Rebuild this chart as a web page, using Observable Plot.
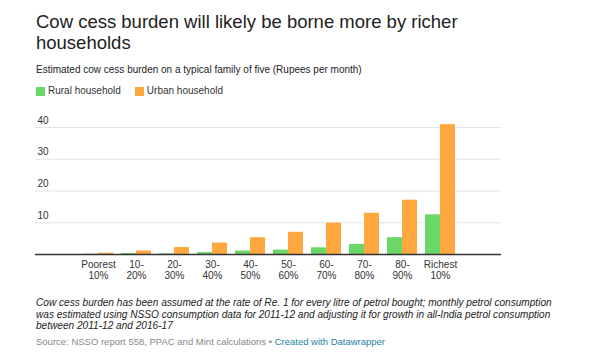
<!DOCTYPE html>
<html>
<head>
<meta charset="utf-8">
<script src="https://cdn.jsdelivr.net/npm/d3@7"></script>
<script src="https://cdn.jsdelivr.net/npm/@observablehq/plot@0.6"></script>
<style>
  html, body { margin: 0; padding: 0; background: #fff; }
  body { width: 610px; height: 360px; position: relative; overflow: hidden;
         font-family: "Liberation Sans", Arial, Helvetica, sans-serif; color: #333; }
  .abs { position: absolute; left: 36px; }
  #title { top: 11px; font-size: 18.5px; line-height: 21px; color: #222; white-space: nowrap; }
  #subtitle { top: 64px; font-size: 10px; line-height: 12px; color: #222; white-space: nowrap; }
  #legend { top: 85px; font-size: 10px; line-height: 12px; color: #333; white-space: nowrap; display: flex; gap: 14px; }
  #legend .item { display: flex; align-items: center; }
  #legend .sw { width: 9px; height: 9px; display: inline-block; margin-right: 3px; }
  #chart { position: absolute; left: 0; top: 110px; }
  #notes { top: 297px; font-size: 10.1px; line-height: 11.6px; font-style: italic; color: #222; white-space: nowrap; }
  #source { top: 336px; font-size: 9.5px; line-height: 12px; color: #888; white-space: nowrap; }
  #source a { color: #1d81a2; text-decoration: none; }
</style>
</head>
<body>
<div id="title" class="abs">Cow cess burden will likely be borne more by richer<br>households</div>
<div id="subtitle" class="abs">Estimated cow cess burden on a typical family of five (Rupees per month)</div>
<div id="legend" class="abs"></div>
<div id="chart"></div>
<div id="notes" class="abs">Cow cess burden has been assumed at the rate of Re. 1 for every litre of petrol bought; monthly petrol consumption<br>was estimated using NSSO consumption data for 2011-12 and adjusting it for growth in all-India petrol consumption<br>between 2011-12 and 2016-17</div>
<div id="source" class="abs">Source: NSSO report 558, PPAC and Mint calculations • <a>Created with Datawrapper</a></div>
<script>
// ---- data ----
const categories = ["Poorest 10%", "10-20%", "20-30%", "30-40%", "40-50%", "50-60%", "60-70%", "70-80%", "80-90%", "Richest 10%"];
const categoryLabels = ["Poorest\n10%", "10-\n20%", "20-\n30%", "30-\n40%", "40-\n50%", "50-\n60%", "60-\n70%", "70-\n80%", "80-\n90%", "Richest\n10%"];
const rural = [0.1, 0.3, 0.2, 0.6, 1.1, 1.4, 2.1, 3.2, 5.3, 12.5];
const urban = [0.4, 1.1, 2.2, 3.6, 5.3, 7.0, 9.9, 13.0, 17.1, 40.9];
const seriesNames = ["Rural household", "Urban household"];
const seriesColors = ["#6bd768", "#ffa83f"];
const yTicks = [10, 20, 30, 40];

// ---- table built from arrays ----
const table = categories.map((c, i) => ({category: c, label: categoryLabels[i], rural: rural[i], urban: urban[i]}));

// legend
const legend = document.getElementById("legend");
seriesNames.forEach((name, i) => {
  const item = document.createElement("span");
  item.className = "item";
  const sw = document.createElement("span");
  sw.className = "sw";
  sw.style.background = seriesColors[i];
  item.appendChild(sw);
  item.appendChild(document.createTextNode(name));
  legend.appendChild(item);
});

const base = {
  width: 610,
  height: 180,
  marginLeft: 35,
  marginRight: 109,
  marginTop: 17,
  marginBottom: 36,
  style: {fontFamily: "'Liberation Sans', Arial, sans-serif", background: "white"},
  x: {type: "band", domain: categories, paddingInner: 0.22, paddingOuter: 0.11, insetLeft: 42, insetRight: 41, axis: null},
  y: {domain: [0, 40], axis: null}
};

const probe = Plot.plot({...base, marks: [Plot.barY(table, {x: "category", y: "urban"})]});
const half = probe.scale("x").bandwidth / 2;

const chart = Plot.plot({
  ...base,
  marks: [
    Plot.ruleY(yTicks, {stroke: "#e3e3e3", strokeWidth: 1}),
    Plot.text(yTicks, {y: d => d, text: d => String(d), frameAnchor: "left", textAnchor: "start", dx: 2, dy: -7, fontSize: 10, fill: "#333"}),
    Plot.barY(table, {x: "category", y: "rural", fill: seriesColors[0], insetRight: half}),
    Plot.barY(table, {x: "category", y: "urban", fill: seriesColors[1], insetLeft: half}),
    Plot.ruleY([0], {stroke: "#333", strokeWidth: 1.3}),
    Plot.text(table, {x: "category", text: "label", frameAnchor: "bottom", lineAnchor: "top", dy: 6, fontSize: 10, lineHeight: 1.1, fill: "#333"})
  ]
});
document.getElementById("chart").appendChild(chart);
</script>
</body>
</html>
